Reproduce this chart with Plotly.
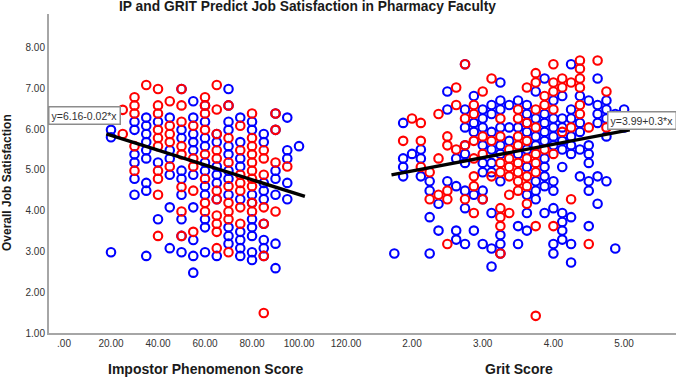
import plotly.graph_objects as go

ip_blue = {
 20:[5.98,5.80,2.98],
 30:[6.18,5.98,5.38,5.18,4.78,4.39],
 35:[6.28,6.08,5.88,5.68,5.48,5.28,4.68,4.49,2.89],
 40:[6.18,5.18,3.79],
 45:[6.28,5.48,5.28,4.88,4.08,3.08],
 50:[6.98,5.98,5.78,4.98,4.78,4.39,3.79,3.38,2.98],
 55:[6.68,6.28,5.88,5.68,5.48,4.88,4.08,3.28,2.89,2.48],
 60:[6.58,6.18,5.78,5.58,5.18,4.98,4.60,4.39,3.79,3.59,2.98],
 65:[5.88,5.68,5.08,4.88,4.68,4.28,2.89],
 70:[6.98,6.58,6.18,5.98,5.58,5.38,4.98,4.78,4.39,3.59,3.38,3.19],
 75:[6.28,5.68,5.28,5.08,4.28,3.48,3.28,3.08,2.89],
 80:[6.18,5.98,4.39,4.19,3.79,3.59,3.38,2.98,2.79],
 85:[5.88,5.68,4.68,4.49,4.28,3.68,3.28,3.08,2.89],
 90:[6.38,5.98,4.98,4.78,4.39,3.19,2.59],
 95:[6.28,5.48,5.28,4.68,4.28],
 100:[5.58],
}
ip_red = {
 25:[6.47,5.88],
 30:[6.78,6.58,6.38,5.58,4.98],
 35:[7.08],
 40:[6.98,6.58,6.38,5.98,5.78,5.58,4.98,4.78,4.39,3.38],
 45:[6.68,6.08,5.88,5.68,5.08],
 50:[6.98,6.58,6.18,5.58,5.38,4.58,3.98,3.38],
 55:[6.08,5.28,5.08,4.49,3.48],
 60:[6.78,6.58,6.38,5.98,5.38,4.78,4.19,3.98],
 65:[7.08,6.48,5.88,5.48,5.28,4.49,4.28,3.88,3.68,3.48,3.08],
 70:[6.58,5.78,5.18,4.60,4.19,3.98,3.79,2.98],
 75:[6.08,5.48,4.88,4.68,4.49,4.08,3.68],
 80:[6.38,5.78,5.58,5.38,5.18,4.98,4.78,4.60,4.19,3.98],
 85:[5.48,5.28,4.88,4.08,3.68,2.89,1.49],
 90:[6.38,5.98,5.18,3.98],
 95:[5.08],
}
grit_blue = {
 1.75:[2.95],
 1.875:[6.15,5.28,5.07,4.84],
 2.0:[5.39],
 2.125:[5.50,5.28,4.84],
 2.25:[4.72,4.49,3.84,2.95],
 2.375:[4.17,3.51],
 2.5:[6.92,6.48,4.72],
 2.625:[5.28,4.60,3.51,3.29],
 2.75:[7.59,6.48,6.04,5.60,5.39,5.17,4.49,4.06,3.18],
 2.875:[6.81,6.15,5.93,4.39,3.51],
 3.0:[6.48,6.26,6.04,5.60,5.17,4.94,4.49,4.28,3.18],
 3.125:[6.59,6.37,5.93,5.50,5.17,4.94,3.94,3.07,2.63],
 3.25:[7.14,6.70,6.48,6.04,5.60,5.39,4.72,3.40,3.18,2.95],
 3.375:[6.59,6.04,5.71],
 3.5:[6.70,6.04,5.39,3.62,3.18],
 3.625:[6.59,6.37,6.15,5.93,5.50,5.07,4.39,3.94,3.51],
 3.75:[6.92,6.26,5.82,5.60,4.72,4.49,4.28],
 3.875:[7.24,6.37,6.15,5.93,5.71,5.28,5.07,4.84,4.60,3.94],
 4.0:[6.70,6.26,6.04,5.82,5.60,4.72,4.49,4.06,3.18,2.95],
 4.125:[6.81,6.26,6.04,5.71,5.50,5.07,3.94,3.72,3.51,3.29],
 4.25:[7.59,6.48,6.26,5.82,5.60,5.39,3.84,3.18,2.73],
 4.375:[6.81,6.15,5.93,5.50,4.84],
 4.5:[6.70,5.60,5.39,5.17,4.72,4.49,3.62],
 4.625:[7.24,6.59,6.37,6.15,4.84,4.17],
 4.75:[6.70,6.48,6.26,5.82,4.72],
 4.875:[6.37,3.07],
 5.0:[6.48,6.04],
}
grit_red = {
 1.875:[5.71],
 2.0:[6.26],
 2.125:[6.15,5.71,5.07],
 2.25:[4.94,4.28],
 2.375:[6.37,5.28,4.39],
 2.5:[5.82,5.60,4.49,4.28,3.18],
 2.625:[7.02,6.59,5.50],
 2.75:[7.59,6.26,5.60,4.28],
 2.875:[6.59,6.37,5.71,5.28,4.84,4.60,3.94],
 3.0:[6.92,5.82,5.39,4.28],
 3.125:[7.24,5.71,4.84],
 3.25:[6.26,5.82,5.17,4.94,4.06,3.84,3.62,2.95],
 3.375:[5.50,5.28,5.07,4.84,4.39,3.94],
 3.5:[6.48,6.26,5.82,5.60,5.17,4.94,4.72,4.49],
 3.625:[7.02,6.15,5.71,5.28,4.84,4.60,4.17],
 3.75:[7.37,7.14,6.48,6.04,5.39,5.17,4.94,3.62,1.42],
 3.875:[6.81,6.59,5.50],
 4.0:[7.59,7.14,6.92,6.48,5.39,3.62],
 4.125:[7.24,7.02,5.93],
 4.25:[7.14,6.04,4.28],
 4.375:[7.68,7.48,7.24,7.02,6.59,6.37],
 4.5:[6.04,3.18],
 4.625:[7.68],
 4.75:[6.92,6.04],
}
ip_line_x = [18, 102.5]
ip_line_y = [5.88, 4.35]
grit_line_x = [1.71, 5.08]
grit_line_y = [4.875, 5.98]
y_ticks = [1,2,3,4,5,6,7,8]
y_labels = ["1.00","2.00","3.00","4.00","5.00","6.00","7.00","8.00"]
ip_ticks = [0,20,40,60,80,100,120]
ip_labels = [".00","20.00","40.00","60.00","80.00","100.00","120.00"]
grit_ticks = [2,3,4,5]
grit_labels = ["2.00","3.00","4.00","5.00"]

def flat(d):
    xs, ys = [], []
    for k, vals in d.items():
        for v in vals:
            xs.append(k); ys.append(v)
    return xs, ys

FONT = "Liberation Sans"
fig = go.Figure()
def pts(d, color, xa):
    x, y = flat(d)
    fig.add_trace(go.Scatter(x=x, y=y, mode="markers", xaxis=xa, yaxis="y",
        marker=dict(symbol="circle-open", size=8.5, color=color, line=dict(width=2.1, color=color)),
        showlegend=False, hoverinfo="skip"))
pts(ip_blue, "#0000ff", "x")
pts(ip_red, "#ff0000", "x")
pts(grit_blue, "#0000ff", "x2")
pts(grit_red, "#ff0000", "x2")
fig.add_trace(go.Scatter(x=ip_line_x, y=ip_line_y, mode="lines", xaxis="x", yaxis="y",
    line=dict(color="black", width=3.4), showlegend=False, hoverinfo="skip"))
fig.add_trace(go.Scatter(x=grit_line_x, y=grit_line_y, mode="lines", xaxis="x2", yaxis="y",
    line=dict(color="black", width=3.4), showlegend=False, hoverinfo="skip"))

split = (370-49)/627
ax = dict(showgrid=False, zeroline=False, showline=True, linecolor="#a6a6a6", linewidth=2,
          ticks="", tickfont=dict(family=FONT, size=10, color="#333333"))
fig.update_layout(
    width=676, height=377, autosize=False, plot_bgcolor="white", paper_bgcolor="white",
    margin=dict(l=49, r=0, t=14, b=44),
    xaxis=dict(domain=[0, split], range=[-6.38, 130.2], tickvals=ip_ticks, ticktext=ip_labels, **ax),
    xaxis2=dict(domain=[split, 1], range=[1.406, 5.734], tickvals=grit_ticks, ticktext=grit_labels,
                anchor="y", **ax),
    yaxis=dict(domain=[0, 1], range=[1, 8.82], tickvals=y_ticks, ticktext=y_labels, **ax),
    font=dict(family=FONT),
)
def txt(s, px, py, size, bold=True, angle=0):
    fig.add_annotation(text=f"<b>{s}</b>" if bold else s, xref="paper", yref="paper",
        x=(px-49)/627, y=(333-py)/319, xanchor="center", yanchor="middle", showarrow=False,
        textangle=angle, font=dict(family=FONT, size=size, color="#1a1a1a"))
txt("IP and GRIT Predict Job Satisfaction in Pharmacy Faculty", 307, 6, 13.8)
txt("Impostor Phenomenon Score", 205, 369, 14)
txt("Grit Score", 519, 369, 14)
txt("Overall Job Satisfaction", 7, 183, 12, angle=-90)
for s, xr, xv, yv in [("y=6.16-0.02*x", "x", 8.7, 6.32), ("y=3.99+0.3*x", "x2", 5.246, 6.2)]:
    fig.add_annotation(text=s, xref=xr, yref="y", x=xv, y=yv, xanchor="center", yanchor="middle",
        showarrow=False, bgcolor="white", bordercolor="#8c8c8c", borderwidth=1.5, borderpad=2,
        font=dict(family=FONT, size=10.5, color="#333333"))
fig.write_html("out.html", config=dict(displayModeBar=False),
               post_script="document.body.style.margin='0';document.documentElement.style.overflow='hidden';")
